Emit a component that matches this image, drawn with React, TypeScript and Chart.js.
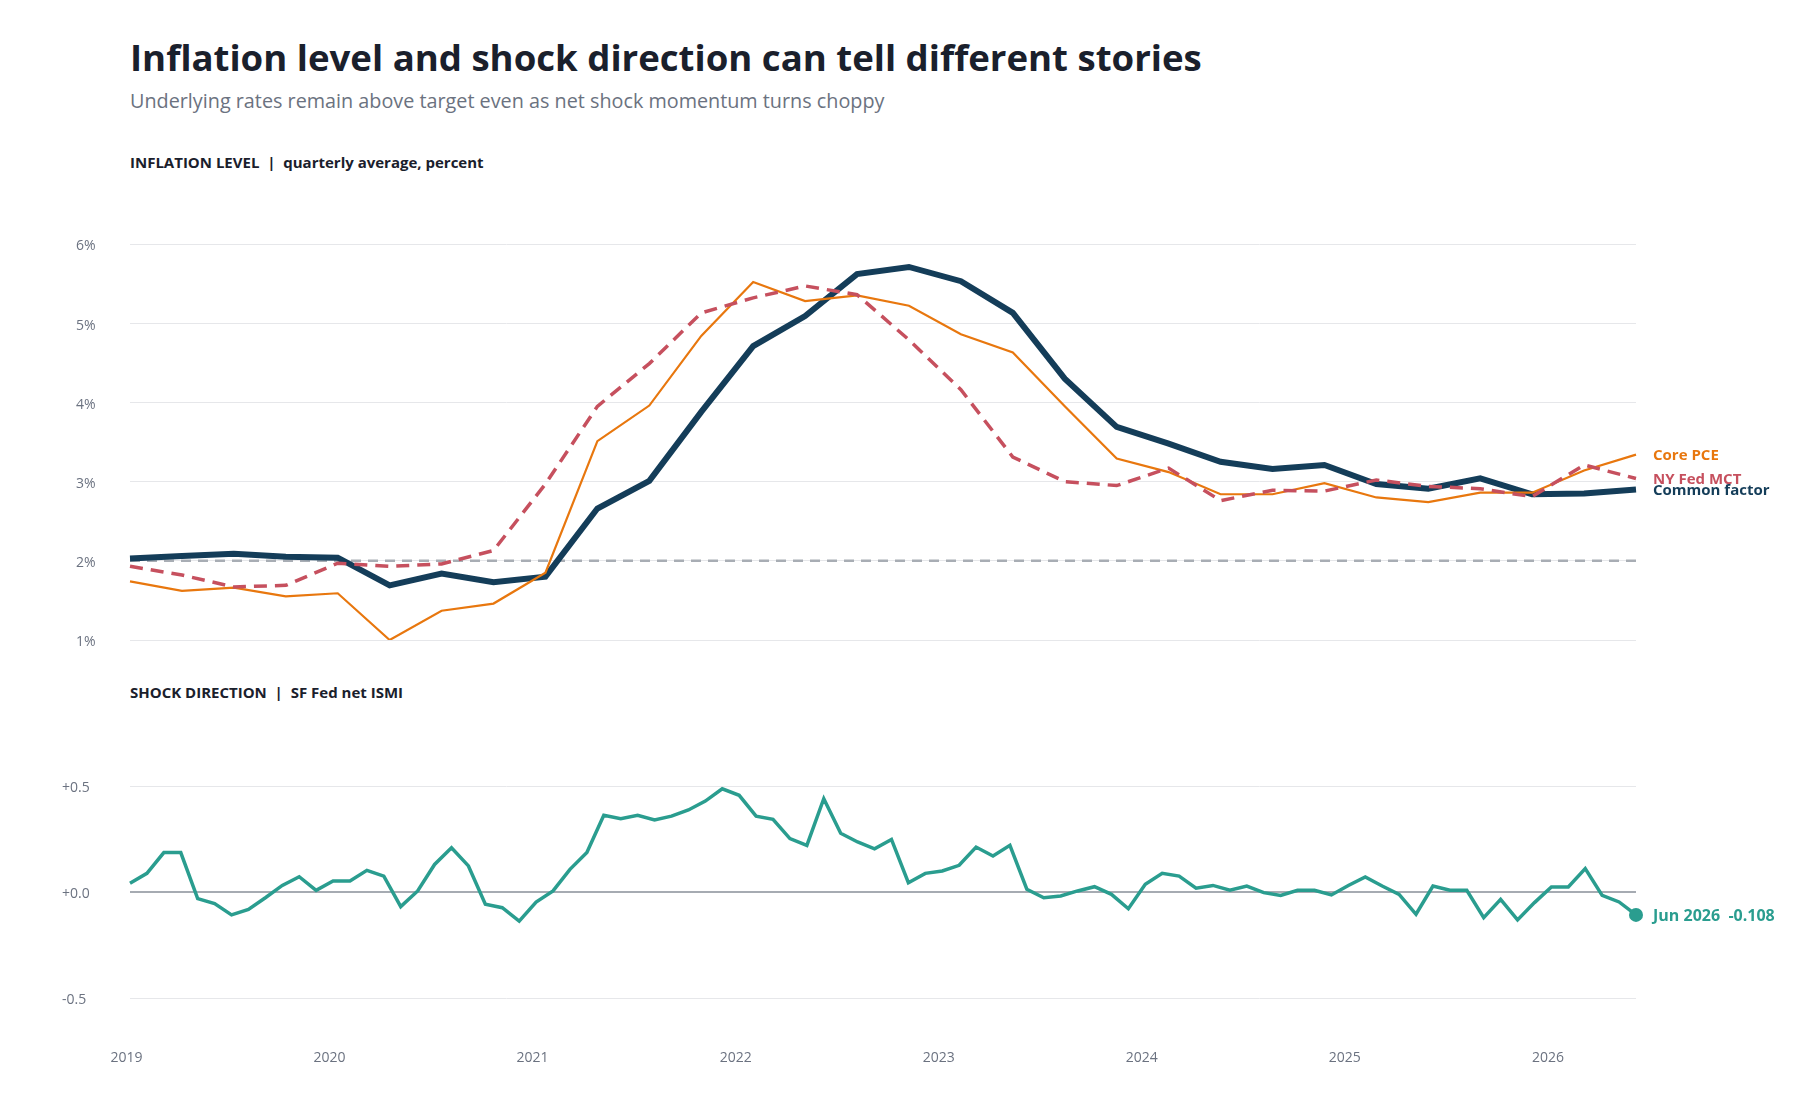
import React, { useEffect, useRef } from 'react';
import { Chart, registerables } from 'chart.js';

Chart.register(...registerables);

// ---------- Data ----------
const QUARTERS = [
  '2019 Q1', '2019 Q2', '2019 Q3', '2019 Q4',
  '2020 Q1', '2020 Q2', '2020 Q3', '2020 Q4',
  '2021 Q1', '2021 Q2', '2021 Q3', '2021 Q4',
  '2022 Q1', '2022 Q2', '2022 Q3', '2022 Q4',
  '2023 Q1', '2023 Q2', '2023 Q3', '2023 Q4',
  '2024 Q1', '2024 Q2', '2024 Q3', '2024 Q4',
  '2025 Q1', '2025 Q2', '2025 Q3', '2025 Q4',
  '2026 Q1', '2026 Q2',
];

const CORE_PCE = [
  1.74, 1.62, 1.66, 1.55, 1.59, 1.0, 1.37, 1.46, 1.85, 3.51,
  3.96, 4.84, 5.52, 5.28, 5.35, 5.22, 4.86, 4.63, 3.95, 3.29,
  3.12, 2.84, 2.84, 2.98, 2.8, 2.74, 2.86, 2.86, 3.14, 3.34,
];

const NY_FED_MCT = [
  1.93, 1.82, 1.67, 1.69, 1.97, 1.93, 1.96, 2.13, 2.97, 3.95,
  4.49, 5.13, 5.32, 5.47, 5.36, 4.79, 4.16, 3.31, 3.0, 2.95,
  3.17, 2.76, 2.89, 2.88, 3.02, 2.94, 2.91, 2.81, 3.21, 3.04,
];

const COMMON_FACTOR = [
  2.03, 2.06, 2.09, 2.05, 2.04, 1.69, 1.84, 1.73, 1.8, 2.66,
  3.01, 3.88, 4.71, 5.09, 5.62, 5.71, 5.53, 5.13, 4.3, 3.69,
  3.48, 3.25, 3.16, 3.21, 2.97, 2.91, 3.04, 2.84, 2.85, 2.9,
];

const TARGET = 2;
const LEVEL_TICKS = [1, 2, 3, 4, 5, 6];

const YEARS = ['2019', '2020', '2021', '2022', '2023', '2024', '2025', '2026'];
const MONTH_NAMES = ['Jan', 'Feb', 'Mar', 'Apr', 'May', 'Jun', 'Jul', 'Aug', 'Sep', 'Oct', 'Nov', 'Dec'];

const ISMI = [
  0.041, 0.088, 0.186, 0.186, -0.031, -0.055, -0.108, -0.082, -0.027, 0.031, 0.072, 0.008,
  0.052, 0.052, 0.102, 0.075, -0.069, 0.005, 0.13, 0.209, 0.123, -0.058, -0.074, -0.137,
  -0.047, 0.005, 0.107, 0.186, 0.362, 0.346, 0.362, 0.34, 0.358, 0.387, 0.429, 0.487,
  0.456, 0.358, 0.343, 0.252, 0.22, 0.44, 0.277, 0.236, 0.204, 0.248, 0.044, 0.088,
  0.099, 0.126, 0.212, 0.17, 0.22, 0.013, -0.027, -0.019, 0.005, 0.025, -0.011, -0.079,
  0.036, 0.088, 0.075, 0.018, 0.031, 0.008, 0.028, -0.003, -0.016, 0.008, 0.008, -0.014,
  0.031, 0.071, 0.028, -0.011, -0.105, 0.028, 0.008, 0.008, -0.121, -0.035, -0.132, -0.05,
  0.024, 0.024, 0.11, -0.016, -0.047, -0.108,
];

const MONTH_LABELS = YEARS.flatMap((y) => MONTH_NAMES.map((m) => `${m} ${y}`)).slice(0, ISMI.length);
const SHOCK_TICKS = [-0.5, 0, 0.5];

// ---------- Styles ----------
const FONT = "'Open Sans', sans-serif";
const NAVY = '#143d59';
const ORANGE = '#e8770e';
const RED = '#c6505e';
const TEAL = '#2a9d8f';
const TARGET_GRAY = '#a8adb4';
const ZERO_GRAY = '#a6abb2';
const GRID = '#e6e7ea';
const TICK = '#6b7280';

Chart.defaults.font.family = FONT;

const endLabelsPlugin = {
  id: 'endLabels',
  afterDatasetsDraw(chart: any, _args: any, opts: any) {
    const items = opts && opts.items ? opts.items : [];
    const ctx = chart.ctx;
    items.forEach((it: any) => {
      const meta = chart.getDatasetMeta(it.dataset);
      const pts = meta.data;
      if (!pts || !pts.length) return;
      const pt = pts[pts.length - 1];
      ctx.save();
      ctx.font = `bold ${it.size || 15}px ${FONT}`;
      ctx.fillStyle = it.color;
      ctx.textAlign = 'left';
      ctx.textBaseline = 'middle';
      ctx.fillText(it.text, pt.x + (it.dx || 17), pt.y + (it.dy || 1.5));
      ctx.restore();
    });
  },
};

export default function App() {
  const topRef = useRef<HTMLCanvasElement | null>(null);
  const botRef = useRef<HTMLCanvasElement | null>(null);

  useEffect(() => {
    if (!topRef.current || !botRef.current) return;

    const topChart = new Chart(topRef.current, {
      type: 'line',
      data: {
        labels: QUARTERS,
        datasets: [
          {
            label: 'NY Fed MCT',
            data: NY_FED_MCT,
            borderColor: RED,
            borderWidth: 3.5,
            borderDash: [13, 8],
            pointRadius: 0,
            tension: 0,
            order: 0,
          },
          {
            label: 'Core PCE',
            data: CORE_PCE,
            borderColor: ORANGE,
            borderWidth: 2.2,
            pointRadius: 0,
            tension: 0,
            order: 1,
          },
          {
            label: 'Common factor',
            data: COMMON_FACTOR,
            borderColor: NAVY,
            borderWidth: 6,
            pointRadius: 0,
            tension: 0,
            order: 2,
          },
          {
            label: '2% target',
            data: QUARTERS.map(() => TARGET),
            borderColor: TARGET_GRAY,
            borderWidth: 2.5,
            borderDash: [10, 7],
            pointRadius: 0,
            tension: 0,
            order: 3,
          },
        ],
      },
      options: {
        responsive: false,
        animation: false,
        devicePixelRatio: 1,
        layout: { padding: { left: 76, right: 164, top: 44, bottom: 20 } },
        plugins: {
          legend: { display: false },
          tooltip: { enabled: false },
          endLabels: {
            items: [
              { dataset: 1, text: 'Core PCE', color: ORANGE },
              { dataset: 0, text: 'NY Fed MCT', color: RED },
              { dataset: 2, text: 'Common factor', color: NAVY },
            ],
          },
        } as any,
        scales: {
          x: { type: 'category', display: false, offset: false },
          y: {
            min: 1,
            max: 6,
            afterBuildTicks: (s: any) => {
              s.ticks = LEVEL_TICKS.map((v) => ({ value: v }));
            },
            afterFit: (s: any) => {
              s.width = 54;
            },
            grid: { color: GRID, lineWidth: 1, drawTicks: false },
            border: { display: false },
            ticks: {
              crossAlign: 'far',
              padding: 0,
              labelOffset: 2.5,
              color: TICK,
              font: { size: 14 },
              callback: (v: any) => `${v}%`,
            },
          },
        },
      },
      plugins: [endLabelsPlugin],
    } as any);

    const last = ISMI.length - 1;
    const botChart = new Chart(botRef.current, {
      type: 'line',
      data: {
        labels: MONTH_LABELS,
        datasets: [
          {
            label: 'SF Fed net ISMI',
            data: ISMI,
            borderColor: TEAL,
            backgroundColor: TEAL,
            borderWidth: 3.5,
            tension: 0,
            clip: false,
            pointRadius: (c: any) => (c.dataIndex === last ? 7 : 0),
            pointHoverRadius: 0,
            pointBorderWidth: 0,
            pointBackgroundColor: TEAL,
          },
        ],
      },
      options: {
        responsive: false,
        animation: false,
        devicePixelRatio: 1,
        layout: { padding: { left: 62, right: 164, top: 46, bottom: 0 } },
        plugins: {
          legend: { display: false },
          tooltip: { enabled: false },
          endLabels: {
            items: [
              {
                dataset: 0,
                text: `${MONTH_LABELS[last]}  ${ISMI[last].toFixed(3)}`,
                color: TEAL,
                size: 16,
              },
            ],
          },
        } as any,
        scales: {
          x: {
            type: 'category',
            offset: false,
            afterFit: (s: any) => {
              s.height = 122;
            },
            grid: { display: false, drawTicks: false },
            border: { display: false },
            ticks: {
              autoSkip: false,
              maxRotation: 0,
              minRotation: 0,
              padding: 52,
              labelOffset: -3.5,
              color: TICK,
              font: { size: 14 },
              callback: (_v: any, i: number) =>
                MONTH_LABELS[i] && MONTH_LABELS[i].startsWith('Jan') ? MONTH_LABELS[i].slice(4) : '',
            },
          },
          y: {
            min: -0.5,
            max: 0.5,
            afterBuildTicks: (s: any) => {
              s.ticks = SHOCK_TICKS.map((v) => ({ value: v }));
            },
            afterFit: (s: any) => {
              s.width = 68;
            },
            grid: {
              drawTicks: false,
              color: (c: any) => (c.tick && c.tick.value === 0 ? ZERO_GRAY : GRID),
              lineWidth: (c: any) => (c.tick && c.tick.value === 0 ? 2 : 1),
            },
            border: { display: false },
            ticks: {
              crossAlign: 'far',
              padding: 0,
              labelOffset: 2.5,
              color: TICK,
              font: { size: 14 },
              callback: (v: any) => {
                const n = Number(v);
                if (n > 0) return `+${n.toFixed(1)}`;
                if (n === 0) return '+0.0';
                return n.toFixed(1);
              },
            },
          },
        },
      },
      plugins: [endLabelsPlugin],
    } as any);

    return () => {
      topChart.destroy();
      botChart.destroy();
    };
  }, []);

  const abs: React.CSSProperties = { position: 'absolute', left: 130, whiteSpace: 'pre', margin: 0 };

  return (
    <div
      style={{
        position: 'absolute',
        left: 0,
        top: 0,
        width: 1800,
        height: 1120,
        background: '#ffffff',
        fontFamily: FONT,
        overflow: 'hidden',
      }}
    >
      <div style={{ ...abs, top: 39, fontSize: 36.6, lineHeight: '37px', fontWeight: 700, color: '#1a202c' }}>
        Inflation level and shock direction can tell different stories
      </div>
      <div style={{ ...abs, top: 91, fontSize: 19.8, lineHeight: '20px', fontWeight: 400, color: '#6b7280' }}>
        Underlying rates remain above target even as net shock momentum turns choppy
      </div>
      <div style={{ ...abs, top: 155, fontSize: 15, lineHeight: '15px', fontWeight: 700, color: '#1a202c' }}>
        {'INFLATION LEVEL  |  quarterly average, percent'}
      </div>
      <div style={{ ...abs, top: 685, fontSize: 15, lineHeight: '15px', fontWeight: 700, color: '#1a202c' }}>
        {'SHOCK DIRECTION  |  SF Fed net ISMI'}
      </div>
      <canvas
        ref={topRef}
        width={1800}
        height={460}
        style={{ position: 'absolute', left: 0, top: 200, width: 1800, height: 460 }}
      />
      <canvas
        ref={botRef}
        width={1800}
        height={380}
        style={{ position: 'absolute', left: 0, top: 740, width: 1800, height: 380 }}
      />
    </div>
  );
}
